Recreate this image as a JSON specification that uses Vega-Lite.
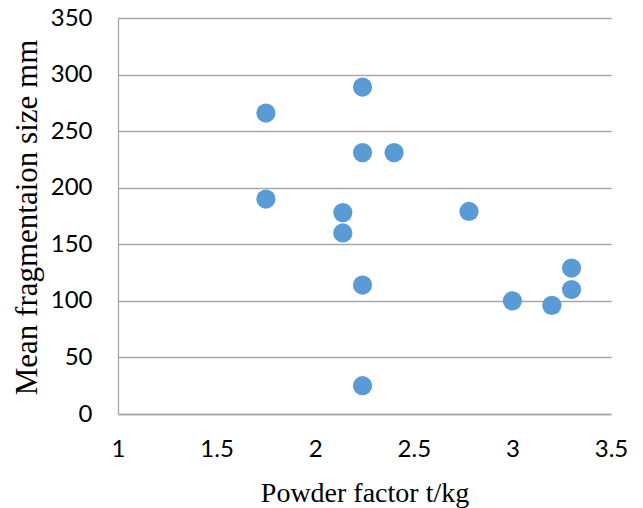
{
  "$schema": "https://vega.github.io/schema/vega-lite/v6.json",
  "width": 493,
  "height": 396,
  "autosize": "none",
  "padding": {"left": 118, "top": 18, "right": 32, "bottom": 94},
  "background": "white",
  "config": {"view": {"stroke": null}},
  "data": {
    "values": [
      {"powder_factor": 1.75, "mean_size": 266},
      {"powder_factor": 1.75, "mean_size": 190},
      {"powder_factor": 2.24, "mean_size": 289},
      {"powder_factor": 2.24, "mean_size": 231},
      {"powder_factor": 2.4, "mean_size": 231},
      {"powder_factor": 2.14, "mean_size": 178},
      {"powder_factor": 2.14, "mean_size": 160},
      {"powder_factor": 2.78, "mean_size": 179},
      {"powder_factor": 2.24, "mean_size": 114},
      {"powder_factor": 2.24, "mean_size": 25},
      {"powder_factor": 3.0, "mean_size": 100},
      {"powder_factor": 3.2, "mean_size": 96},
      {"powder_factor": 3.3, "mean_size": 129},
      {"powder_factor": 3.3, "mean_size": 110}
    ]
  },
  "mark": {"type": "circle", "size": 370, "color": "#5B9BD5", "opacity": 1},
  "encoding": {
    "x": {
      "field": "powder_factor",
      "type": "quantitative",
      "scale": {"domain": [1, 3.5], "nice": false, "zero": false},
      "axis": {
        "title": "Powder factor t/kg",
        "values": [1, 1.5, 2, 2.5, 3, 3.5],
        "format": "~g",
        "grid": false,
        "ticks": false,
        "domainColor": "#A6A6A6",
        "domainWidth": 1.3,
        "labelFont": "Lato",
        "labelFontSize": 24,
        "labelColor": "#000000",
        "labelPadding": 23,
        "labelBaseline": "top",
        "labelFlush": false,
        "titleFont": "Liberation Serif",
        "titleFontSize": 28,
        "titleFontWeight": "normal",
        "titleColor": "#000000",
        "titleBaseline": "alphabetic",
        "titleY": 87
      }
    },
    "y": {
      "field": "mean_size",
      "type": "quantitative",
      "scale": {"domain": [0, 350], "nice": false},
      "axis": {
        "title": "Mean fragmentaion size mm",
        "values": [0, 50, 100, 150, 200, 250, 300, 350],
        "grid": true,
        "gridColor": "#A6A6A6",
        "gridWidth": 1.3,
        "ticks": false,
        "domainColor": "#A6A6A6",
        "domainWidth": 1.3,
        "labelFont": "Lato",
        "labelFontSize": 24,
        "labelColor": "#000000",
        "labelPadding": 26,
        "labelFlush": false,
        "titleFont": "Liberation Serif",
        "titleFontSize": 31,
        "titleFontWeight": "normal",
        "titleColor": "#000000",
        "titleAngle": -90,
        "titleAlign": "center",
        "titleBaseline": "middle",
        "titleX": -91,
        "titleY": 199
      }
    }
  }
}
